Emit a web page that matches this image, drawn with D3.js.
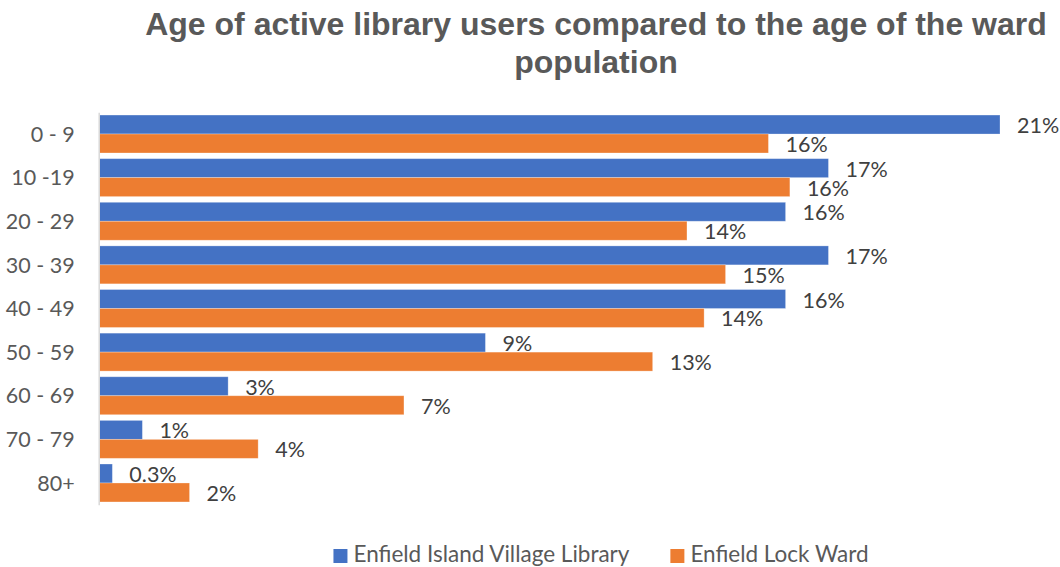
<!DOCTYPE html>
<html>
<head>
<meta charset="utf-8">
<script src="https://cdn.jsdelivr.net/npm/d3@7"></script>
<style>
  html, body { margin: 0; padding: 0; background: #ffffff; }
  svg { display: block; }
</style>
</head>
<body>
<svg id="chart" width="1060" height="567"></svg>
<script>
// Age bands and the share (%) of each group falling in them
const ageBands = ["0 - 9", "10 -19", "20 - 29", "30 - 39", "40 - 49", "50 - 59", "60 - 69", "70 - 79", "80+"];
const libraryUsers = [21, 17, 16, 17, 16, 9, 3, 1, 0.3];
const wardPopulation = [15.6, 16.1, 13.7, 14.6, 14.1, 12.9, 7.1, 3.7, 2.1];
const seriesNames = ["Enfield Island Village Library", "Enfield Lock Ward"];
const seriesColors = ["#4472C4", "#ED7D31"];
const titleLines = ["Age of active library users compared to the age of the ward", "population"];

const svg = d3.select("#chart");
const plot = { left: 99.5, right: 1000, top: 112.2, bottom: 504.8 };
const labelFont = "Lato, 'Open Sans', sans-serif";

const series = [libraryUsers, wardPopulation];
const rows = ageBands.map((band, i) => ({
  band,
  values: series.map((s, k) => ({ key: seriesNames[k], value: s[i], color: seriesColors[k] }))
}));

const x = d3.scaleLinear()
  .domain([0, d3.max(libraryUsers.concat(wardPopulation))])
  .range([plot.left, plot.right]);

const y = d3.scaleBand()
  .domain(ageBands)
  .range([plot.top, plot.bottom])
  .paddingInner(0.13)
  .paddingOuter(0.065);

const ySub = d3.scaleBand()
  .domain(seriesNames)
  .range([0, y.bandwidth()]);

const fmt = v => (v < 1 ? v.toFixed(1) : Math.round(v).toFixed(0)) + "%";

// Title
svg.append("g")
  .selectAll("text")
  .data(titleLines)
  .join("text")
  .attr("x", 596)
  .attr("y", (d, i) => 35 + i * 38)
  .attr("text-anchor", "middle")
  .attr("font-family", "'Liberation Sans', Arial, sans-serif")
  .attr("font-weight", "bold")
  .attr("font-size", 32)
  .attr("fill", "#595959")
  .text(d => d);

// Bars
const groups = svg.append("g")
  .selectAll("g")
  .data(rows)
  .join("g")
  .attr("transform", d => `translate(0,${y(d.band)})`);

groups.selectAll("rect")
  .data(d => d.values)
  .join("rect")
  .attr("x", x(0))
  .attr("y", d => ySub(d.key))
  .attr("width", d => x(d.value) - x(0))
  .attr("height", ySub.bandwidth())
  .attr("fill", d => d.color)
  .attr("stroke", "#ffffff")
  .attr("stroke-opacity", 0.35)
  .attr("stroke-width", 0.8);

// Value labels
groups.selectAll("text")
  .data(d => d.values)
  .join("text")
  .attr("x", d => x(d.value) + 17)
  .attr("y", d => ySub(d.key) + ySub.bandwidth() / 2 + 8.5)
  .attr("font-family", labelFont)
  .attr("font-size", 21.5)
  .attr("fill", "#404040")
  .text(d => fmt(d.value));

// Category axis
const yAxis = d3.axisLeft(y).tickSize(0).tickPadding(24);
const axisG = svg.append("g")
  .attr("transform", `translate(${plot.left - 0.8},0)`)
  .call(yAxis);
axisG.select(".domain")
  .attr("stroke", "#d9d9d9")
  .attr("stroke-width", 1.5);
axisG.selectAll(".tick text")
  .attr("font-family", labelFont)
  .attr("font-size", 21.5)
  .attr("fill", "#595959")
  .attr("dy", "0.36em");

// Legend
const legend = svg.append("g");
const items = legend.selectAll("g")
  .data(seriesNames)
  .join("g");
items.append("rect")
  .attr("x", 0)
  .attr("y", -13)
  .attr("width", 14)
  .attr("height", 14)
  .attr("fill", (d, i) => seriesColors[i]);
items.append("text")
  .attr("x", 20)
  .attr("y", 0)
  .attr("font-family", labelFont)
  .attr("font-size", 22.5)
  .attr("fill", "#595959")
  .text(d => d);

let cursor = 0;
items.each(function () {
  const g = d3.select(this);
  g.attr("transform", `translate(${cursor},0)`);
  cursor += 20 + g.select("text").node().getComputedTextLength() + 41;
});
const totalW = cursor - 41;
legend.attr("transform", `translate(${601 - totalW / 2},562)`);
</script>
</body>
</html>
